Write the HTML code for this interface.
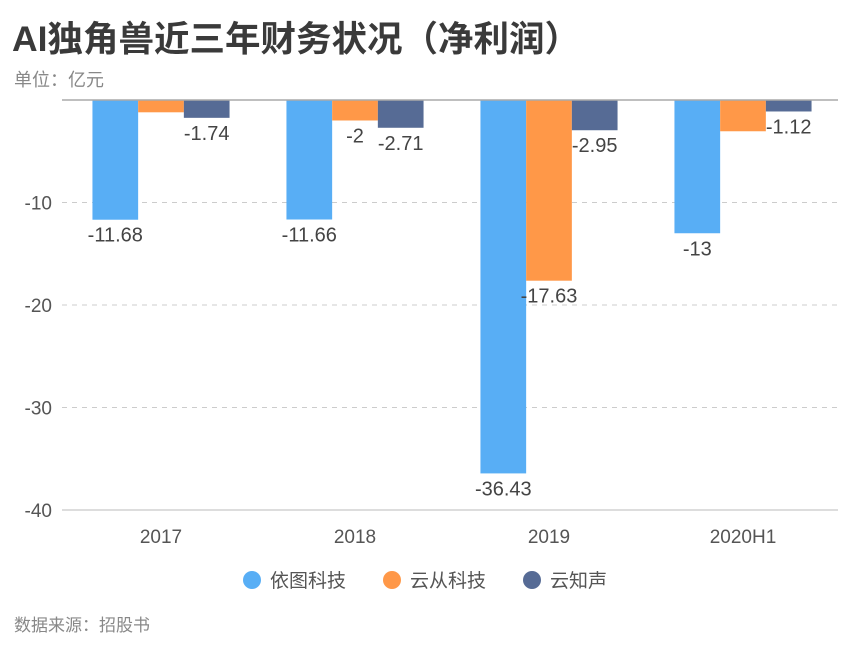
<!DOCTYPE html>
<html><head><meta charset="utf-8"><style>
body{margin:0;background:#fff;font-family:"Liberation Sans","Noto Sans CJK SC",sans-serif;}
</style></head><body>
<svg width="858" height="641" xmlns="http://www.w3.org/2000/svg" style="font-family:'Liberation Sans','Noto Sans CJK SC',sans-serif">
<text x="12" y="51" font-size="35.5" font-weight="bold" fill="#3a3a3a">AI独角兽近三年财务状况（净利润）</text>
<text x="14" y="86" font-size="18" fill="#888">单位：亿元</text>
<g id="grid"></g><g id="bars"></g><g id="labels"></g>
<g>
<circle cx="252" cy="580" r="9" fill="#58aef5"/>
<text x="270" y="587" font-size="19" fill="#555">依图科技</text>
<circle cx="392" cy="580" r="9" fill="#ff9848"/>
<text x="410" y="587" font-size="19" fill="#555">云从科技</text>
<circle cx="532" cy="580" r="9" fill="#566b95"/>
<text x="550" y="587" font-size="19" fill="#555">云知声</text>
</g>
<text x="14" y="631" font-size="17" fill="#888">数据来源：招股书</text>
</svg>
<script>
const categories=["2017","2018","2019","2020H1"];
const yitu=[-11.68,-11.66,-36.43,-13];
const yuncong=[-1.2,-2,-17.63,-3.05];
const yunzhisheng=[-1.74,-2.71,-2.95,-1.12];
const yTicks=[-10,-20,-30,-40];
const hideLabel={"1-0":true,"1-3":true};
const NS="http://www.w3.org/2000/svg";
const x0=64,x1=840,zeroY=100,pxPer=10.25;
const y=v=>zeroY-v*pxPer;
const band=(x1-x0)/categories.length;
const bw=45.7;
function mk(tag,attrs,parent,txt){const e=document.createElementNS(NS,tag);for(const k in attrs)e.setAttribute(k,attrs[k]);if(txt!==undefined)e.textContent=txt;parent.appendChild(e);return e;}
const grid=document.getElementById('grid'),bars=document.getElementById('bars'),labels=document.getElementById('labels');
yTicks.forEach(t=>{
  const l=mk('line',{x1:62,x2:838,y1:y(t),y2:y(t),stroke:t===-40?'#bbb':'#ccc','stroke-dasharray':t===-40?'':'5,5'},grid);
  
  
  const tx=mk('text',{x:52,y:y(t)+7,'text-anchor':'end','font-size':19,fill:'#555'},grid,String(t));
  
  
});
const series=[yitu,yuncong,yunzhisheng],colors=['#58aef5','#ff9848','#566b95'];
categories.forEach((c,i)=>{
  const cx=x0+band*(i+0.5);
  const tx=mk('text',{x:cx,y:543,'text-anchor':'middle','font-size':19,fill:'#555'},labels,c);
  
  
  series.forEach((s,j)=>{
    const bx=cx-1.5*bw+j*bw,v=s[i];
    const r=mk('rect',{x:bx,y:zeroY,width:bw,height:Math.abs(y(v)-zeroY),fill:colors[j]},bars);
    
    
    if(!hideLabel[j+'-'+i]){
      const lt=mk('text',{x:bx+bw/2,y:y(v)+22,'text-anchor':'middle','font-size':20,fill:'#444'},labels,String(v));
      
      
    }
  });
});
const z=mk('line',{x1:62,x2:838,y1:zeroY,y2:zeroY,stroke:'#aaa','stroke-width':1.5},labels);


</script>
</body></html>
